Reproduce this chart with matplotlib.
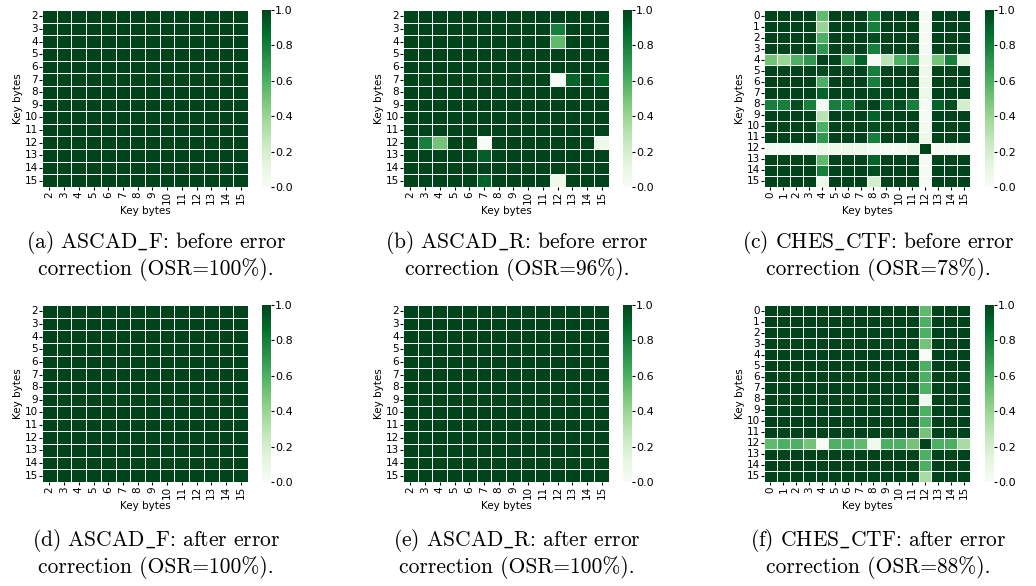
import numpy as np
import matplotlib
matplotlib.use('Agg')
import matplotlib.pyplot as plt
import seaborn as sns

plt.rcParams['mathtext.fontset'] = 'cm'

# key byte labels
keys_ascad = list(range(2, 16))
keys_ches = list(range(16))

# ASCAD_F before / after: all recovered
ascad_f_before = np.ones((14, 14))
ascad_f_after = np.ones((14, 14))

# ASCAD_R before: (row key, col key, value)
ascad_r_cells = [
    (3, 12, 0.80), (4, 12, 0.55), (7, 12, 0.0), (7, 13, 0.90), (7, 15, 0.90),
    (12, 3, 0.80), (12, 4, 0.50), (12, 7, 0.0), (12, 15, 0.06),
    (13, 7, 0.92), (15, 7, 0.90), (15, 12, 0.06),
]
ascad_r_before = np.ones((14, 14))
for r, c, v in ascad_r_cells:
    ascad_r_before[r - 2, c - 2] = v
ascad_r_after = np.ones((14, 14))

# CHES_CTF before
ches_col4 = [0.55, 0.40, 0.60, 0.70, 1.00, 0.98, 0.60, 0.90, 0.02, 0.30, 0.60, 0.70, 0.08, 0.55, 0.80, 0.08]
ches_col8 = [0.80, 0.80, 0.97, 0.80, 0.02, 0.80, 0.80, 0.97, 1.00, 0.90, 0.97, 0.80, 0.02, 0.90, 0.97, 0.20]
ches_col12 = [0.02, 0.02, 0.02, 0.02, 0.08, 0.08, 0.08, 0.08, 0.02, 0.02, 0.03, 0.08, 1.00, 0.02, 0.02, 0.02]
ches_row4 = [0.50, 0.40, 0.60, 0.70, 1.00, 1.00, 0.60, 0.90, 0.02, 0.30, 0.60, 0.70, 0.08, 0.50, 0.80, 0.10]
ches_row8 = [0.80, 0.80, 0.97, 0.80, 0.02, 0.80, 0.80, 0.97, 1.00, 0.90, 0.97, 0.80, 0.02, 0.90, 0.97, 0.20]
ches_row12 = [0.02, 0.02, 0.02, 0.02, 0.08, 0.08, 0.08, 0.08, 0.02, 0.02, 0.02, 0.08, 1.00, 0.02, 0.02, 0.02]
ches_before = np.ones((16, 16))
ches_before[:, 4] = ches_col4
ches_before[:, 8] = ches_col8
ches_before[:, 12] = ches_col12
ches_before[4, :] = ches_row4
ches_before[8, :] = ches_row8
ches_before[12, :] = ches_row12

# CHES_CTF after
ches_after_col12 = [0.55, 0.60, 0.60, 0.50, 0.0, 0.60, 0.60, 0.60, 0.05, 0.60, 0.60, 0.50, 1.00, 0.60, 0.60, 0.35]
ches_after_row12 = [0.55, 0.60, 0.60, 0.50, 0.0, 0.60, 0.60, 0.55, 0.05, 0.60, 0.60, 0.50, 1.00, 0.60, 0.60, 0.35]
ches_after = np.ones((16, 16))
ches_after[:, 12] = ches_after_col12
ches_after[12, :] = ches_after_row12

captions = [
    '(a) ASCAD$\\_$F: before error\ncorrection (OSR=100%).',
    '(b) ASCAD$\\_$R: before error\ncorrection (OSR=96%).',
    '(c) CHES$\\_$CTF: before error\ncorrection (OSR=78%).',
    '(d) ASCAD$\\_$F: after error\ncorrection (OSR=100%).',
    '(e) ASCAD$\\_$R: after error\ncorrection (OSR=100%).',
    '(f) CHES$\\_$CTF: after error\ncorrection (OSR=88%).',
]
panels = [
    (ascad_f_before, keys_ascad), (ascad_r_before, keys_ascad), (ches_before, keys_ches),
    (ascad_f_after, keys_ascad), (ascad_r_after, keys_ascad), (ches_after, keys_ches),
]

fig = plt.figure(figsize=(10.36, 5.86), dpi=100)
W, H = 1036, 586
lefts = [42, 403, 764]
cb_lefts = [262, 623, 985]
tops = [10, 305]
cap_off = [245, 248]
hm_w, hm_h = 206, 177

for i, (data, keys) in enumerate(panels):
    row, col = divmod(i, 3)
    ax = fig.add_axes([lefts[col] / W, 1 - (tops[row] + hm_h) / H, hm_w / W, hm_h / H])
    cax = fig.add_axes([cb_lefts[col] / W, 1 - (tops[row] + hm_h) / H, 9 / W, hm_h / H])
    sns.heatmap(data, ax=ax, cbar_ax=cax, cmap='Greens', vmin=0, vmax=1,
                linewidths=0.5, linecolor='white',
                xticklabels=keys, yticklabels=keys)
    ax.set_xticklabels(keys, rotation=90, fontsize=7.5)
    ax.set_yticklabels(keys, rotation=0, fontsize=7.5)
    ax.tick_params(length=2, pad=1)
    ax.set_xlabel('Key bytes', fontsize=7.5, labelpad=1)
    ax.set_ylabel('Key bytes', fontsize=7.5, labelpad=1)
    cax.tick_params(labelsize=8, length=2, pad=1)
    cax.set_yticks([0, 0.2, 0.4, 0.6, 0.8, 1.0])
    cx = (lefts[col] + 114) / W
    cy = 1 - (tops[row] + cap_off[row]) / H
    fig.text(cx, cy, captions[i], ha='center', va='center', fontsize=15.5,
             family=['cmr10', 'DejaVu Serif'], linespacing=1.15)

fig.savefig('out.png', dpi=100)
